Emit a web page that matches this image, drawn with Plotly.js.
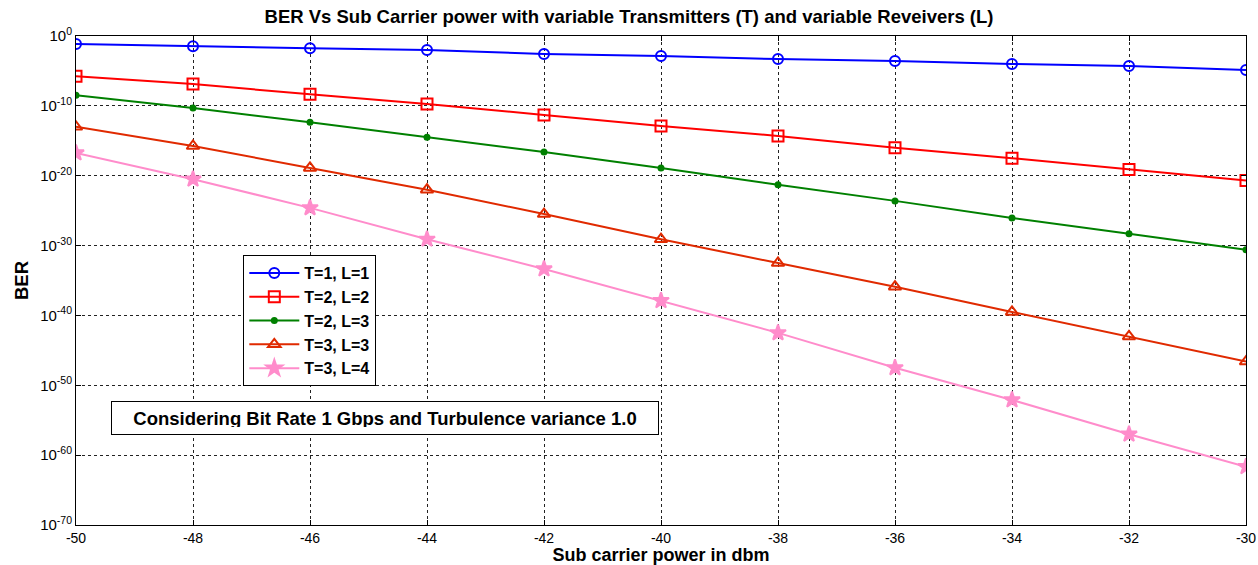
<!DOCTYPE html>
<html>
<head>
<meta charset="utf-8">
<script src="https://cdn.plot.ly/plotly-3.0.1.min.js"></script>
<style>html,body{margin:0;padding:0;background:#fff;}#chart{width:1258px;height:565px;}</style>
</head>
<body>
<div id="chart"></div>
<script>
const power = [-50, -48, -46, -44, -42, -40, -38, -36, -34, -32, -30];
const ber_T1L1 = [7.1e-2, 3.4e-2, 1.7e-2, 1.0e-2, 2.6e-3, 1.4e-3, 5.0e-4, 2.6e-4, 1.0e-4, 5.0e-5, 1.35e-5];
const ber_T2L2 = [1.7e-6, 1.3e-7, 4.5e-9, 1.9e-10, 5.0e-12, 1.3e-13, 5.0e-15, 1.0e-16, 3.2e-18, 8.0e-20, 2.0e-21];
const ber_T2L3 = [3.2e-9, 5.0e-11, 4.5e-13, 3.2e-15, 2.5e-17, 1.3e-19, 5.0e-22, 2.5e-24, 9.0e-27, 5.0e-29, 2.5e-31];
const ber_T3L3 = [1.0e-13, 1.8e-16, 1.3e-19, 1.0e-22, 3.2e-26, 8.0e-30, 3.2e-33, 1.3e-36, 3.2e-40, 1.0e-43, 2.5e-47];
const ber_T3L4 = [1.8e-17, 3.2e-21, 2.5e-25, 8.0e-30, 4.5e-34, 1.3e-38, 3.2e-43, 3.2e-48, 8.0e-53, 1.0e-57, 2.2e-62];
const seriesNames = ["T=1, L=1", "T=2, L=2", "T=2, L=3", "T=3, L=3", "T=3, L=4"];
const tickExps = [0, -10, -20, -30, -40, -50, -60, -70];
const xTicks = [-50, -48, -46, -44, -42, -40, -38, -36, -34, -32, -30];

const tickVals = tickExps.map(e => Math.pow(10, e));
const tickText = tickExps.map(e => '10<sup>' + e + '</sup>');

const styles = [
  {color: '#0000ff', symbol: 'circle-open', size: 10},
  {color: '#ff0000', symbol: 'square-open', size: 11},
  {color: '#008000', symbol: 'circle', size: 5},
  {color: '#e02a00', symbol: 'triangle-up-open', size: 11},
  {color: '#ff8ccb', symbol: 'star', size: 12}
];
const ys = [ber_T1L1, ber_T2L2, ber_T2L3, ber_T3L3, ber_T3L4];

const traces = ys.map((y, i) => ({
  x: power, y: y, name: '<b>' + seriesNames[i] + '</b>', type: 'scatter', mode: 'lines+markers',
  line: {color: styles[i].color, width: 2},
  marker: {symbol: styles[i].symbol, size: styles[i].size, color: styles[i].color,
           line: {color: styles[i].color, width: 2}}
}));

const layout = {
  width: 1258, height: 565,
  margin: {l: 76, r: 12, t: 36, b: 40},
  paper_bgcolor: '#ffffff', plot_bgcolor: '#ffffff',
  font: {family: 'Liberation Sans, Arial, sans-serif', color: '#000'},
  title: {text: '<b>BER Vs Sub Carrier power with variable Transmitters (T) and variable Reveivers (L)</b>',
          font: {size: 18.5, color: '#000'}, x: 0.5, xanchor: 'center', y: 0.97, yanchor: 'middle'},
  xaxis: {
    range: [-50, -30], tickvals: xTicks, ticktext: xTicks.map(String),
    showgrid: true, gridcolor: '#222', griddash: '3px,3px', gridwidth: 1,
    showline: true, linecolor: '#000', linewidth: 1, mirror: 'ticks',
    ticks: 'inside', ticklen: 5, tickcolor: '#000',
    zeroline: false, tickfont: {size: 14, color: '#000'},
    title: {text: '<b>Sub carrier power in dbm</b>', font: {size: 18, color: '#000'}, standoff: 4}
  },
  yaxis: {
    type: 'log', range: [-70, 0], tickvals: tickVals, ticktext: tickText,
    showgrid: true, gridcolor: '#222', griddash: '3px,3px', gridwidth: 1,
    showline: true, linecolor: '#000', linewidth: 1, mirror: 'ticks',
    ticks: 'inside', ticklen: 5, tickcolor: '#000',
    zeroline: false, tickfont: {size: 15, color: '#000'},
    title: {text: '<b>BER</b>', font: {size: 18.5, color: '#000'}, standoff: 6}
  },
  legend: {
    x: 0.143, y: 0.552, xanchor: 'left', yanchor: 'top',
    bgcolor: '#ffffff', bordercolor: '#000', borderwidth: 1,
    font: {size: 16, color: '#000'}, itemwidth: 50, tracegroupgap: 0
  },
  showlegend: true,
  annotations: [{
    xref: 'paper', yref: 'paper', x: 0.03, y: 0.218, xanchor: 'left', yanchor: 'middle',
    text: '<b>Considering Bit Rate 1 Gbps and Turbulence variance 1.0</b>',
    showarrow: false, font: {size: 18.5, color: '#000'},
    bordercolor: '#000', borderwidth: 1, borderpad: 7, bgcolor: '#ffffff',
    width: 532, height: 18, align: 'center'
  }]
};

Plotly.newPlot('chart', traces, layout, {displayModeBar: false, staticPlot: true});
</script>
</body>
</html>
